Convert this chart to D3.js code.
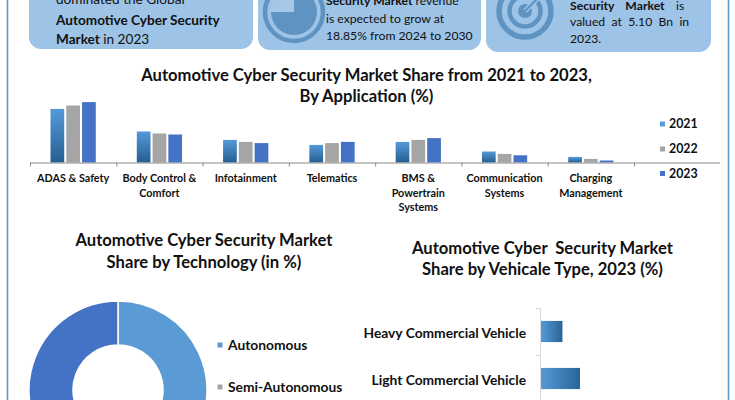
<!DOCTYPE html>
<html><head><meta charset="utf-8">
<script src="https://cdn.jsdelivr.net/npm/d3@7"></script>
<style>html,body{margin:0;padding:0;background:#fff;overflow:hidden}svg{display:block}text{font-family:Lato,"Open Sans",sans-serif;fill:#111;white-space:pre}</style>
</head><body><svg id="c" width="735" height="400"></svg>
<script>
const appCategories=[["ADAS & Safety"],["Body Control &","Comfort"],["Infotainment"],["Telematics"],["BMS &","Powertrain","Systems"],["Communication","Systems"],["Charging","Management"]];
const years=["2021","2022","2023"];
const share2021=[26.8,15.5,11.3,8.8,10.3,5.5,2.8];
const share2022=[28.5,14.5,10.3,9.7,11.3,4.3,1.8];
const share2023=[30.2,14,9.7,10.3,12.2,3.6,1.0];
const techNames=["Autonomous","Semi-Autonomous","Other"];
const techValues=[36,26,38];
const vehicleNames=["Heavy Commercial Vehicle","Light Commercial Vehicle"];
const vehicleValues=[11,20];
const cardOne=[["dominated the Global",false],["Automotive Cyber Security",true],["Market",true," in 2023"]];
const cardTwo=[["Security Market",true," revenue"],["is expected to grow at",false],["18.85% from 2024 to 2030",false]];
const cardThree=[["Security  Market",true,"  is",2.6],["valued at 5.10 Bn in",false,"",3.2],["2023.",false,"",0]];

const svg=d3.select("#c");
const defs=svg.append("defs");
const grad=(id,x2,y2,a,b)=>{const g=defs.append("linearGradient").attr("id",id).attr("x1",0).attr("y1",0).attr("x2",x2).attr("y2",y2);
 g.append("stop").attr("offset",0).attr("stop-color",a);g.append("stop").attr("offset",1).attr("stop-color",b);};
grad("gv",0,1,"#549ad9","#255e91");grad("gh",1,0,"#549ad9","#2a6496");
const C={a:"#5b9bd5",b:"#a5a5a5",c:"#4472c4",card:"#9dc3e6",icon:"#5f93c2"};

// page frame
svg.append("line").attr("x1",7.5).attr("x2",7.5).attr("y1",0).attr("y2",400).attr("stroke",C.a).attr("stroke-width",1.6);
svg.append("line").attr("x1",728.5).attr("x2",728.5).attr("y1",0).attr("y2",400).attr("stroke",C.a).attr("stroke-width",1.6);

// cards
[[29,253,49],[258,481,50],[486,711,52]].forEach(([a,b,h])=>svg.append("rect").attr("x",a).attr("y",-30).attr("width",b-a).attr("height",h+30).attr("rx",12).attr("fill",C.card));
const lines=(arr,x,ys,size)=>arr.forEach((l,i)=>{const t=svg.append("text").attr("x",x).attr("y",ys[i]).attr("font-size",size).attr("word-spacing",l[3]||0);
 t.append("tspan").attr("font-weight",l[1]?700:400).text(l[0]);if(l[2])t.append("tspan").attr("font-weight",400).text(l[2]);});
lines(cardOne,56,[4,24.5,43.5],13.6);
lines(cardTwo,326,[5,23,40],12.2);
lines(cardThree,570,[10,26,43],12.2);

// pie icon
const ic2=svg.append("g").attr("transform","translate(294,12)");
ic2.append("circle").attr("r",29).attr("fill","none").attr("stroke",C.icon).attr("stroke-width",4.5);
ic2.append("circle").attr("r",23).attr("fill",C.icon);
ic2.append("path").attr("d",d3.arc().innerRadius(0).outerRadius(24)(({startAngle:-Math.PI/2,endAngle:0}))).attr("fill","#a6c8e8");
// target icon
const ic3=svg.append("g").attr("transform","translate(525,11)");
[[26,5.5],[15.5,4.5]].forEach(([r,w])=>ic3.append("circle").attr("r",r).attr("fill","none").attr("stroke",C.icon).attr("stroke-width",w));
ic3.append("circle").attr("r",7).attr("fill",C.icon);
ic3.append("line").attr("x1",0).attr("y1",0).attr("x2",22).attr("y2",-22).attr("stroke",C.card).attr("stroke-width",5);
ic3.append("line").attr("x1",0).attr("y1",0).attr("x2",16).attr("y2",-16).attr("stroke",C.icon).attr("stroke-width",2.2);

const title=(ls,x,ys)=>ls.forEach((s,i)=>svg.append("text").attr("x",x).attr("y",ys[i]).attr("text-anchor","middle").attr("font-size",16.6).attr("font-weight",700).text(s));
title(["Automotive Cyber Security Market Share from 2021 to 2023,","By Application (%)"],366.5,[81,102]);
title(["Automotive Cyber Security Market","Share by Technology (in %)"],204,[246,268]);
title(["Automotive Cyber  Security Market","Share by Vehicale Type, 2023 (%)"],542.5,[254,275]);

// grouped bars
const x0=d3.scaleBand().domain(d3.range(appCategories.length)).range([30,634]);
const x1=d3.scaleBand().domain(years).range([0,x0.bandwidth()]).paddingInner(0.13).paddingOuter(1.3);
const y=d3.scaleLinear().domain([0,30]).range([162.5,102.5]);
const series=[share2021,share2022,share2023],fills=["url(#gv)",C.b,C.c];
years.forEach((yr,s)=>svg.append("g").selectAll("rect").data(series[s]).join("rect")
 .attr("x",(d,i)=>x0(i)+x1(yr)).attr("width",x1.bandwidth()).attr("y",d=>y(d)).attr("height",d=>y(0)-y(d)).attr("fill",fills[s]));
svg.append("line").attr("x1",30).attr("x2",720).attr("y1",y(0)+.5).attr("y2",y(0)+.5).attr("stroke","#8a8a8a");
[...x0.domain().map(i=>x0(i)),634].forEach(v=>svg.append("line").attr("x1",v+.5).attr("x2",v+.5).attr("y1",y(0)).attr("y2",y(0)+4).attr("stroke","#8a8a8a"));
appCategories.forEach((ls,i)=>ls.forEach((s,j)=>svg.append("text").attr("x",x0(i)+x0.bandwidth()/2).attr("y",182+j*14.5).attr("text-anchor","middle").attr("font-size",10.8).attr("font-weight",700).attr("fill","#222").text(s)));
// legend
const lgFill=[C.a,C.b,C.c];
years.forEach((yr,i)=>{const yy=[124,149,173.5][i];
 svg.append("rect").attr("x",660).attr("y",yy-2.5).attr("width",5).attr("height",5).attr("fill",lgFill[i]);
 svg.append("text").attr("x",669).attr("y",yy+4.3).attr("font-size",12.4).attr("font-weight",700).text(yr);});

// donut
const pie=d3.pie().sort(null).value(d=>d);
const arc=d3.arc().innerRadius(45).outerRadius(89);
svg.append("g").attr("transform","translate(118,390)").selectAll("path").data(pie(techValues)).join("path")
 .attr("d",arc).attr("fill",(d,i)=>[C.a,C.b,C.c][i]).attr("stroke","#fff").attr("stroke-width",1.5);
techNames.slice(0,2).forEach((n,i)=>{const yy=[345,387][i];
 svg.append("rect").attr("x",217.5).attr("y",yy-2.5).attr("width",5).attr("height",5).attr("fill",[C.a,C.b][i]);
 svg.append("text").attr("x",228).attr("y",yy+4.8).attr("font-size",13.8).attr("font-weight",700).text(n);});

// horizontal bars
const hy=d3.scaleBand().domain(vehicleNames).range([308,402]).paddingInner(0.55).paddingOuter(0.275);
const hx=d3.scaleLinear().domain([0,20]).range([541,580]);
svg.append("g").selectAll("rect").data(vehicleValues).join("rect")
 .attr("x",hx(0)).attr("y",(d,i)=>hy(vehicleNames[i])).attr("height",hy.bandwidth()).attr("width",d=>hx(d)-hx(0)).attr("fill","url(#gh)");
svg.append("line").attr("x1",540.5).attr("x2",540.5).attr("y1",308).attr("y2",400).attr("stroke","#d9d9d9");
[308,355].forEach(v=>svg.append("line").attr("x1",536).attr("x2",541).attr("y1",v+.5).attr("y2",v+.5).attr("stroke","#d9d9d9"));
vehicleNames.forEach(n=>svg.append("text").attr("x",526).attr("y",hy(n)+hy.bandwidth()/2+6).attr("text-anchor","end").attr("font-size",13.8).attr("font-weight",700).attr("fill","#222").text(n));
</script></body></html>
